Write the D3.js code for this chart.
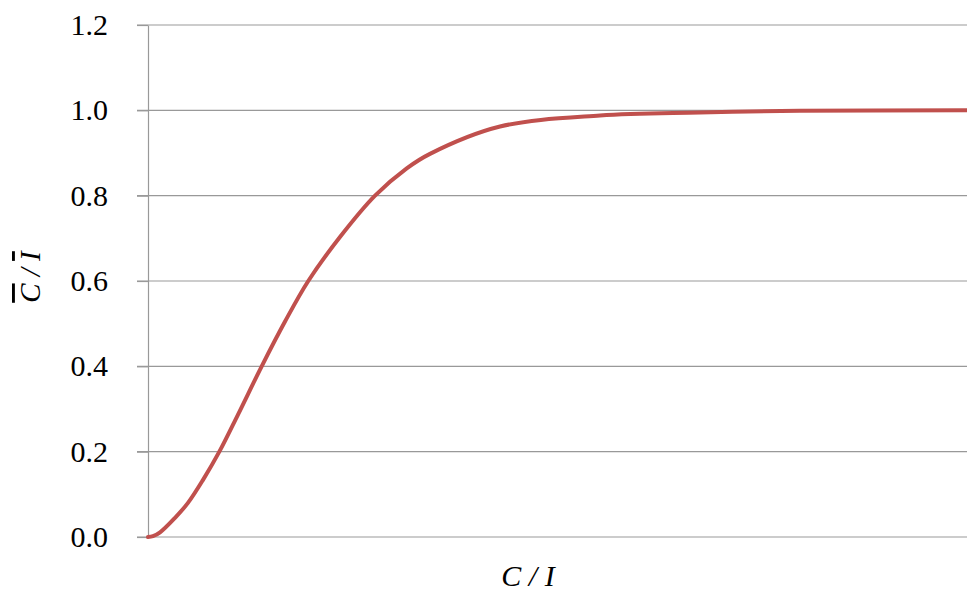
<!DOCTYPE html>
<html>
<head>
<meta charset="utf-8">
<script src="https://cdn.jsdelivr.net/npm/d3@7"></script>
<style>
  html, body { margin: 0; padding: 0; background: #fff; }
  svg { display: block; }
  svg text { font-family: "Liberation Serif", serif; }
</style>
</head>
<body>
<svg id="chart" width="967" height="592">
  <text id="xlabel" x="528" y="586" text-anchor="middle" font-family="Liberation Serif" font-style="italic" font-size="30" style="font-family:'Liberation Serif'">C / I</text>
  <text id="ylabel" transform="translate(40,277) rotate(-90)" text-anchor="middle" font-family="Liberation Serif" font-style="italic" font-size="29" style="font-family:'Liberation Serif'"><tspan text-decoration="overline">C</tspan><tspan> / </tspan><tspan text-decoration="overline">I</tspan></text>
</svg>
<script>
// C/I values (arbitrary units, axis unlabelled) and the ratio
const ciValues    = [0, 0.061, 0.147, 0.33, 0.488, 0.672, 0.871, 1.099, 1.388, 1.673, 1.957, 2.344, 2.772, 3.159, 3.443, 4.298, 5.519, 6.74, 7.96, 10];
const ratioValues = [0, 0.002, 0.011, 0.045, 0.080, 0.134, 0.2, 0.287, 0.40, 0.505, 0.60, 0.703, 0.80, 0.864, 0.898, 0.962, 0.988, 0.995, 0.999, 1.0];
const yTicks = [0, 0.2, 0.4, 0.6, 0.8, 1.0, 1.2];
const yTickLabels = ["0.0", "0.2", "0.4", "0.6", "0.8", "1.0", "1.2"];
const xLabel = "C / I";

const FONT = "Liberation Serif";
const svg = d3.select("#chart");
const margin = { left: 148, right: 0, top: 25, bottom: 55 };
const W = 967, H = 592;

const x = d3.scaleLinear().domain([0, 10]).range([margin.left, W - margin.right]);
const y = d3.scaleLinear().domain([0, 1.2]).range([H - margin.bottom, margin.top]);

// gridlines
svg.insert("g", ":first-child")
  .selectAll("line")
  .data(yTicks)
  .join("line")
  .attr("x1", margin.left - 11)
  .attr("x2", W)
  .attr("y1", d => y(d))
  .attr("y2", d => y(d))
  .attr("stroke", "#999")
  .attr("stroke-width", 1.2);

// y axis
const yAxis = d3.axisLeft(y)
  .tickValues(yTicks)
  .tickFormat((d, i) => yTickLabels[i])
  .tickSize(11)
  .tickSizeOuter(0)
  .tickPadding(29);

const gy = svg.append("g")
  .attr("transform", `translate(${margin.left},0)`)
  .call(yAxis);
gy.attr("font-family", FONT).attr("font-size", 30);
gy.select(".domain").attr("stroke", "#999").attr("stroke-width", 1.2);
gy.selectAll(".tick line").attr("stroke", "#999").attr("stroke-width", 1.2);
gy.selectAll(".tick text")
  .attr("font-family", FONT)
  .style("font-family", FONT)
  .attr("font-size", 30)
  .attr("fill", "#000");

// curve
const data = ciValues.map((c, i) => ({ c, r: ratioValues[i] }));
const line = d3.line()
  .x(d => x(d.c))
  .y(d => y(d.r))
  .curve(d3.curveCatmullRom.alpha(0.5));

svg.append("path")
  .datum(data)
  .attr("d", line)
  .attr("fill", "none")
  .attr("stroke", "#C0504D")
  .attr("stroke-width", 4)
  .attr("stroke-linejoin", "round")
  .attr("stroke-linecap", "round");

// axis title text from data
d3.select("#xlabel").text(xLabel);
</script>
</body>
</html>
